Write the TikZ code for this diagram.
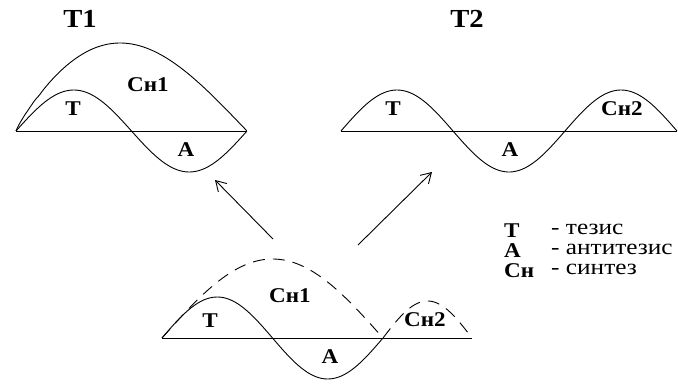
\documentclass[tikz,border=0pt]{standalone}
\usepackage{fontspec}
\setmainfont{Liberation Serif}
\newfontfamily\lblfont[FakeStretch=1.1]{Liberation Serif}
\newfontfamily\lgdfont[FakeStretch=1.15]{Liberation Serif}
\usetikzlibrary{arrows.meta}
\tikzset{
  ln/.style={line width=0.9pt, black},
  dsh/.style={line width=0.9pt, black, dash pattern=on 12pt off 8pt},
  lbl/.style={font=\lblfont\fontsize{21}{21}\selectfont\bfseries, inner sep=0pt},
  ttl/.style={font=\lblfont\fontsize{26}{26}\selectfont\bfseries, inner sep=0pt},
  lgd/.style={font=\lgdfont\fontsize{22}{22}\selectfont, inner sep=0pt, anchor=west},
  arr/.style={line width=0.9pt, -{Straight Barb[length=10pt,width=12pt]}}
}
\begin{document}
\begin{tikzpicture}[x=1pt,y=-1pt]
\useasboundingbox (0,0) rectangle (678,385);
% ---------- T1 ----------
\coordinate (b1l) at (16,131);
\coordinate (b1r) at (247,131);
\draw[ln] (b1l) -- (b1r);
\draw[ln] plot[domain=0:1, samples=80, smooth] ({16+231*\x},{131-41*sin(360*\x)});
\draw[ln] (b1l) -- plot[domain=0.002:1, samples=70, smooth] ({16+231*(\x^1.15)},{131-88*sin(180*\x)});
\node[ttl] (t1) at (80,19) {T1};
\node[lbl] (t1c) at (148,85) {Сн1};
\node[lbl] (t1t) at (73,109) {Т};
\node[lbl] (t1a) at (186,150) {А};
% ---------- T2 ----------
\coordinate (b2l) at (341,131);
\coordinate (b2r) at (677,131);
\draw[ln] (b2l) -- (b2r);
\draw[ln] plot[domain=0:1.5, samples=120, smooth] ({341+224*\x},{131-41*sin(360*\x)});
\node[ttl] (t2) at (467,19) {T2};
\node[lbl] (t2t) at (393,109) {Т};
\node[lbl] (t2a) at (510,150) {А};
\node[lbl] (t2c) at (622,109) {Сн2};
% ---------- bottom ----------
\coordinate (b3l) at (162,338);
\coordinate (b3r) at (472,338);
\draw[ln] (b3l) -- (b3r);
\draw[ln] plot[domain=0:1, samples=80, smooth] ({162+221*\x},{338-41*sin(360*\x)});
\draw[dsh] plot[domain=0:1, samples=60, smooth] ({162+221*\x},{338-79*sin(180*\x)});
\draw[dsh] plot[domain=0:1, samples=40, smooth] ({383+89*\x},{338-37*sin(180*\x)});
\node[lbl] (b3c) at (290,296) {Сн1};
\node[lbl] (b3t) at (210,321) {Т};
\node[lbl] (b3a) at (330,357) {А};
\node[lbl] (b3d) at (425,320) {Сн2};
% ---------- arrows ----------
\coordinate (a1s) at (273,239);
\coordinate (a1e) at (215,180);
\coordinate (a2s) at (358,245);
\coordinate (a2e) at (432,172);
\draw[arr] (a1s) -- (a1e);
\draw[arr] (a2s) -- (a2e);
% ---------- legend ----------
\node[lbl, anchor=west] (lt) at (504,231) {Т};
\node[lbl, anchor=west] (la) at (504,251) {А};
\node[lbl, anchor=west] (lc) at (504,271) {Сн};
\node[lgd] (ltx) at (551,229) {- тезис};
\node[lgd] (lax) at (551,249) {- антитезис};
\node[lgd] (lcx) at (551,269) {- синтез};
\end{tikzpicture}
\end{document}
